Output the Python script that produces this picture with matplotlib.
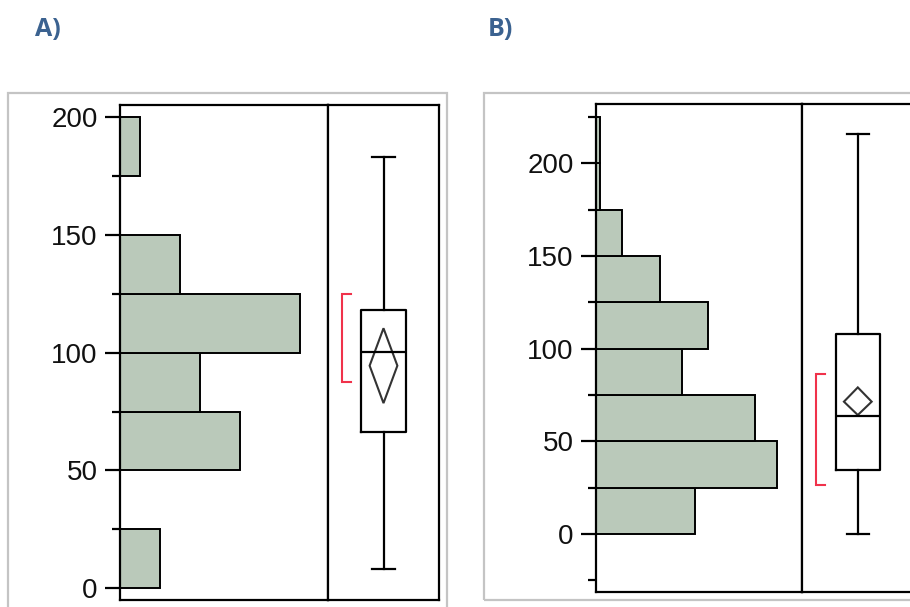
import matplotlib
matplotlib.use("Agg")
import matplotlib.pyplot as plt
from matplotlib.patches import Rectangle, Polygon

plt.rcParams['font.family'] = ['Liberation Sans', 'DejaVu Sans']

# ---- data ----
edges_a = [0, 25, 50, 75, 100, 125, 150, 175, 200]
counts_a = [2, 0, 6, 4, 9, 3, 0, 1]
stats_a = dict(whislo=8, q1=66.5, med=100.5, q3=118, whishi=183)
mean_ci_a = (78.6, 94.5, 110.4)       # lower, mean, upper
short_half_a = (87.5, 125)

edges_b = [0, 25, 50, 75, 100, 125, 150, 175, 200, 225]
counts_b = [23, 42, 37, 20, 26, 15, 6, 1, 1]
stats_b = dict(whislo=0, q1=34.5, med=63.7, q3=108, whishi=216)
mean_ci_b = (64.2, 71.4, 79.1)
short_half_b = (26.4, 86.2)

major_ticks = [0, 50, 100, 150, 200]
minor_ticks_a = [25, 75, 125, 175]
minor_ticks_b = [-25, 25, 75, 125, 175, 225]

W, H = 910, 607
fig = plt.figure(figsize=(W / 100, H / 100), dpi=100)
LW = 1.6


def fax(x0, y0, x1, y1):
    # pixel box -> figure axes
    return fig.add_axes([x0 / W, 1 - y1 / H, (x1 - x0) / W, (y1 - y0) / H])


def draw_panel(box, edges, counts, xmax, ylim, minor, stats, mean_ci, short_half, frame, label, label_x):
    x0, xdiv, x1, y0, y1 = box
    # grey frame around the panel
    fx0, fy0, fx1, fy1 = frame
    fig.add_artist(Rectangle((fx0 / W, 1 - fy1 / H), (fx1 - fx0) / W, (fy1 - fy0) / H,
                             transform=fig.transFigure, fill=False, ec='#c4c4c4', lw=1.6))
    fig.text(label_x / W, 1 - 29 / H, label, color='#3b6290', fontsize=18,
             fontweight='bold', family=['Open Sans', 'DejaVu Sans'], va='center')

    ax = fax(x0, y0, xdiv, y1)
    axb = fax(xdiv, y0, x1, y1)

    lows = edges[:-1]
    heights = [edges[i + 1] - edges[i] for i in range(len(lows))]
    ax.barh(lows, counts, height=heights, align='edge', color='#bac9ba',
            edgecolor='black', linewidth=1.4)
    ax.set_xlim(0, xmax)
    ax.set_ylim(*ylim)
    ax.set_xticks([])
    ax.set_yticks(major_ticks)
    ax.set_yticks(minor, minor=True)
    ax.tick_params(axis='y', which='major', direction='out', length=11, width=LW,
                   pad=5, labelsize=20, labelcolor='#111111')
    ax.tick_params(axis='y', which='minor', direction='out', length=6, width=LW)
    for s in ax.spines.values():
        s.set_linewidth(LW)

    # box plot
    st = dict(stats)
    st['fliers'] = []
    axb.bxp([st], positions=[0.5], widths=0.4, showfliers=False,
            boxprops=dict(color='black', lw=LW),
            medianprops=dict(color='black', lw=LW),
            whiskerprops=dict(color='black', lw=LW),
            capprops=dict(color='black', lw=LW))
    lo, mid, hi = mean_ci
    axb.add_patch(Polygon([(0.5, lo), (0.5 + 0.125, mid), (0.5, hi), (0.5 - 0.125, mid)],
                          closed=True, fill=False, ec='#333333', lw=1.5))
    sl, sh = short_half
    axb.plot([0.205, 0.125, 0.125, 0.205], [sl, sl, sh, sh], color='#f0324b', lw=1.5,
             solid_joinstyle='miter')
    axb.set_xlim(0, 1)
    axb.set_ylim(*ylim)
    axb.set_xticks([])
    axb.set_yticks([])
    for s in axb.spines.values():
        s.set_linewidth(LW)


draw_panel((120, 328, 439, 105, 600), edges_a, counts_a, 10.4, (-5, 205.2), minor_ticks_a,
           stats_a, mean_ci_a, short_half_a, (8, 93, 447, 640), 'A)', 35)
draw_panel((596, 802.3, 913.3, 104.3, 591.7), edges_b, counts_b, 48, (-31.1, 231.8), minor_ticks_b,
           stats_b, mean_ci_b, short_half_b, (484, 93, 950, 600), 'B)', 488)

fig.savefig('out.png', dpi=100)
